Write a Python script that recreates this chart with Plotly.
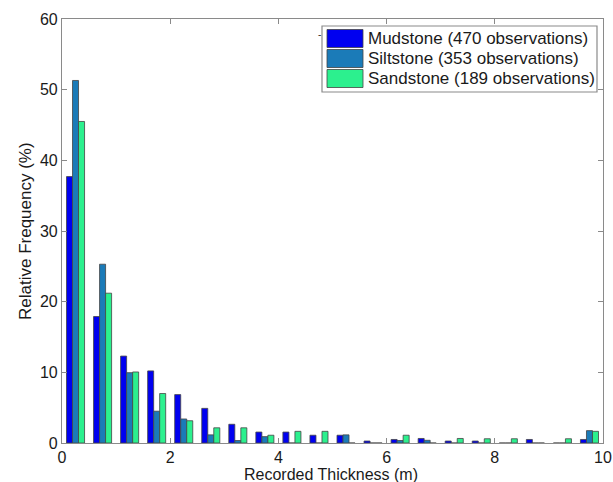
import plotly.graph_objects as go

# Bin centers (m), 0.5 m bins
bin_centers = [0.25, 0.75, 1.25, 1.75, 2.25, 2.75, 3.25, 3.75, 4.25, 4.75,
               5.25, 5.75, 6.25, 6.75, 7.25, 7.75, 8.25, 8.75, 9.25, 9.75]

mudstone = [37.7, 17.9, 12.3, 10.2, 6.85, 4.9, 2.65, 1.55, 1.55, 1.1,
            1.1, 0.28, 0.5, 0.64, 0.28, 0.28, 0, 0.5, 0, 0.5]
siltstone = [51.3, 25.3, 9.95, 4.5, 3.4, 1.15, 0.35, 0.9, 0, 0,
             1.15, 0, 0.35, 0.38, 0, 0, 0, 0, 0, 1.75]
sandstone = [45.5, 21.2, 10.05, 7.0, 3.15, 2.15, 2.15, 1.1, 1.65, 1.65,
             0, 0, 1.1, 0, 0.64, 0.6, 0.6, 0, 0.6, 1.65]

series_names = ["Mudstone (470 observations)",
                "Siltstone (353 observations)",
                "Sandstone (189 observations)"]
series_colors = ["#0000F0", "#1B7BB8", "#2CF08E"]

x_ticks = [0, 2, 4, 6, 8, 10]
y_ticks = [0, 10, 20, 30, 40, 50, 60]

x_title = "Recorded Thickness (m)"
y_title = "Relative Frequency (%)"

FONT = "Liberation Sans, Arial, sans-serif"
W, H = 613, 482
L, R, T, B = 62, 603, 19, 443  # plot area pixel bounds

fig = go.Figure()
for name, vals, col in zip(series_names, [mudstone, siltstone, sandstone], series_colors):
    fig.add_trace(go.Bar(x=bin_centers, y=vals, name=name,
                         marker=dict(color=col, line=dict(color="#444444", width=0.8)),
                         showlegend=False))

axis_common = dict(showline=True, linecolor="#8a8a8a", linewidth=1.2, mirror="ticks",
                   ticks="inside", ticklen=5, tickcolor="#8a8a8a", showgrid=False,
                   zeroline=False, automargin=False,
                   tickfont=dict(family=FONT, size=16, color="#1a1a1a"))

fig.update_layout(
    width=W, height=H,
    margin=dict(l=L, r=W - R, t=T, b=H - B),
    paper_bgcolor="white", plot_bgcolor="white",
    barmode="group", bargap=0.333, bargroupgap=0.0,
    xaxis=dict(range=[0, 10], tickvals=x_ticks, ticklabelstandoff=0, **axis_common),
    yaxis=dict(range=[0, 60], tickvals=y_ticks, **axis_common),
)


def fx(px):
    return (px - L) / (R - L)


def fy(py):
    return (B - py) / (B - T)


# Axis titles
fig.add_annotation(xref="x domain", yref="y domain", x=fx(331), y=fy(474),
                   text=x_title, showarrow=False, xanchor="center", yanchor="middle",
                   borderpad=0,
                   font=dict(family=FONT, size=16, color="#1a1a1a"))
fig.add_annotation(xref="x domain", yref="y domain", x=fx(25), y=fy(231),
                   text=y_title, showarrow=False, textangle=-90,
                   xanchor="center", yanchor="middle", borderpad=0,
                   font=dict(family=FONT, size=17, color="#1a1a1a"))

# Custom legend box
fig.add_shape(type="rect", xref="x domain", yref="y domain",
              x0=fx(322), x1=fx(597), y0=fy(92), y1=fy(26),
              line=dict(color="#8a8a8a", width=1.2), fillcolor="white", layer="above")
row_centers = [38.5, 58.5, 78.5]
for name, col, yc in zip(series_names, series_colors, row_centers):
    fig.add_shape(type="rect", xref="x domain", yref="y domain",
                  x0=fx(327), x1=fx(363), y0=fy(yc + 9), y1=fy(yc - 9),
                  line=dict(color="#444444", width=0.8), fillcolor=col, layer="above")
    fig.add_annotation(xref="x domain", yref="y domain", x=fx(366), y=fy(yc),
                       text=name, showarrow=False, xanchor="left", yanchor="middle",
                       font=dict(family=FONT, size=17, color="#1a1a1a"))

# small mark above the plot
fig.add_annotation(xref="paper", yref="paper", x=(292) / W, y=1 - 9 / H,
                   text="-", showarrow=False, font=dict(family=FONT, size=10, color="#333"))

fig.write_html("out.html")
